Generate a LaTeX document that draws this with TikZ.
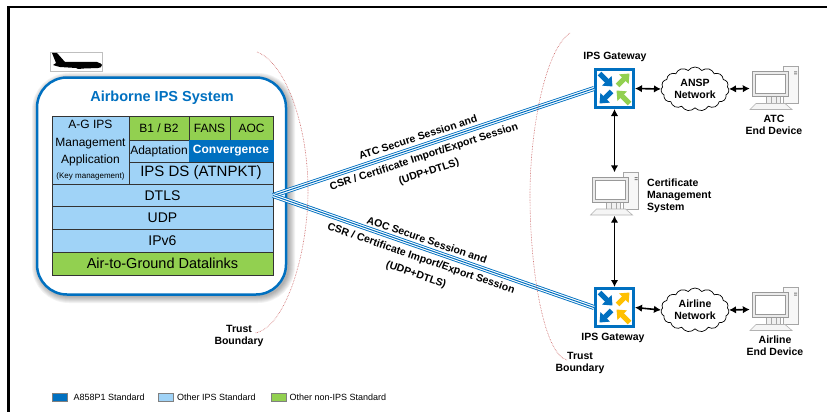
\documentclass[tikz,border=0pt]{standalone}
\usepackage{xcolor}
\usepackage{fontspec}
\usepackage{tikz}
\usetikzlibrary{positioning,shapes.symbols,arrows.meta}
\setmainfont{Liberation Sans}
\definecolor{ipsblue}{RGB}{0, 112, 192}
\definecolor{ipslight}{RGB}{160, 211, 247}
\definecolor{ipsgreen}{RGB}{146, 208, 80}
\definecolor{ipsyellow}{RGB}{255, 192, 0}
\definecolor{trustred}{RGB}{200, 90, 90}

\begin{document}
\begin{tikzpicture}[x=1pt, y=-1pt, node distance=22.7pt]
    % Define styles
    \tikzstyle{sysbox} = [rectangle, draw=ipsblue, line width=2.5pt, fill=white, rounded corners=30pt, minimum width=249pt, minimum height=217pt]
    \tikzstyle{cell} = [rectangle, draw=black!80, line width=0.8pt, inner sep=0pt, outer sep=0pt, text centered, font=\fontsize{12}{14}\selectfont]
    \tikzstyle{row} = [cell, fill=ipslight, minimum width=221pt, minimum height=22.7pt, font=\fontsize{14}{16}\selectfont]
    \tikzstyle{topcell} = [cell, fill=ipsgreen, minimum height=24pt]
    \tikzstyle{midcell} = [cell, fill=ipslight, minimum height=22pt]
    \tikzstyle{gateway} = [rectangle, draw=ipsblue, line width=3pt, fill=white, minimum size=38pt, inner sep=0pt]
    \tikzstyle{netcloud} = [cloud, cloud puffs=15, cloud puff arc=110, aspect=1.6, draw=black, line width=0.7pt, fill=white, minimum width=68pt, minimum height=44pt, inner sep=0pt, align=center, font=\fontsize{10.5}{12}\selectfont\bfseries]
    \tikzstyle{device} = [rectangle, minimum width=48pt, minimum height=43pt, inner sep=0pt]
    \tikzstyle{label} = [align=center, inner sep=0pt, font=\fontsize{10.5}{12}\selectfont\bfseries]
    \tikzstyle{session} = [label, font=\fontsize{10.5}{12}\selectfont\bfseries]
    \tikzstyle{line} = [draw, line width=1.6pt, {Latex[length=7pt,width=7.5pt]}-{Latex[length=7pt,width=7.5pt]}]
    \tikzstyle{secureline} = [draw=ipsblue, line width=5pt, postaction={draw=white, line width=3.2pt}, postaction={draw=ipsblue, line width=1pt}]
    \tikzstyle{trustline} = [draw=trustred, line width=0.6pt, densely dotted]
    \tikzstyle{legendbox} = [rectangle, draw=black!50, line width=0.8pt, minimum width=15pt, minimum height=8pt, inner sep=0pt]
    \tikzstyle{legendtext} = [inner sep=0pt, font=\fontsize{9}{11}\selectfont]
    \tikzset{
        pics/gatewayicon/.style={code={
            \draw[line width=5pt, ipsblue, -{Triangle[length=8pt,width=13pt]}] (-15,-15) -- (-2,-2);
            \draw[line width=5pt, ipsblue, -{Triangle[length=8pt,width=13pt]}] (-3,3) -- (-15,15);
            \draw[line width=5pt, #1, -{Triangle[length=8pt,width=13pt]}] (3,-3) -- (15,-15);
            \draw[line width=5pt, #1, -{Triangle[length=8pt,width=13pt]}] (15,15) -- (2,2);
        }},
        pics/computer/.style={code={
            \draw[black!35, line width=0.7pt, fill=black!3] (9,-22) rectangle (24,15);
            \fill[black!50] (20,-17) rectangle (23,-16) (20,-15) rectangle (23,-14);
            \draw[black!35, line width=0.7pt, fill=black!6] (-8,8) rectangle (6,15);
            \draw[black!35, line width=0.5pt] (-3,8) -- (-3,15) (2,8) -- (2,15);
            \draw[black!40, line width=0.8pt, fill=black!8] (-22,-17) rectangle (14,8);
            \draw[black!40, line width=0.5pt, fill=white] (-19,-14) rectangle (11,5);
            \draw[black!30, line width=0.6pt, fill=black!4] (-18,15) -- (11,15) -- (18,21) -- (-24,21) -- cycle;
        }}
    }

    % Frame and shadow
    \useasboundingbox (0,0) rectangle (827,412);
    \draw[line width=2.6pt] (827,7) -- (8.5,7) -- (8.5,412);
    \foreach \w in {2,4,...,14} {
        \draw[black, opacity=0.05, line width=\w pt, rounded corners=30pt] (39,80) rectangle (288,296);
    }

    % Airborne system
    \node [sysbox] (airborne) at (161.5,186) {};
    \node [font=\fontsize{14.5}{18}\selectfont\bfseries, text=ipsblue, inner sep=0pt] (airbornetitle) at (162,98) {Airborne IPS System};
    \node [row] (dtls) at (162.5,195.5) {DTLS};
    \node [row, below of=dtls] (udp) {UDP};
    \node [row, below of=udp] (ipv6) {IPv6};
    \node [row, fill=ipsgreen, below of=ipv6, font=\fontsize{14.5}{16}\selectfont] (datalinks) {Air-to-Ground Datalinks};
    \node [cell, fill=ipslight, minimum width=77pt, minimum height=68pt, align=center, anchor=north west, font=\fontsize{12}{17.5}\selectfont] (mgmt) at (52,116) {A-G IPS\\Management\\Application\\[-3pt]{\fontsize{8}{9}\selectfont (Key management)}};
    \node [topcell, minimum width=60pt, anchor=north west] (b12) at (129,116) {B1 / B2};
    \node [topcell, minimum width=41pt, right=0pt of b12] (fans) {FANS};
    \node [topcell, minimum width=43pt, right=0pt of fans] (aoc) {AOC};
    \node [midcell, minimum width=60pt, below=0pt of b12] (adaptation) {Adaptation};
    \node [midcell, fill=ipsblue, draw=ipsblue, text=white, minimum width=84pt, right=0pt of adaptation, font=\fontsize{12}{14}\selectfont\bfseries] (convergence) {Convergence};
    \node [midcell, minimum width=144pt, anchor=north west, font=\fontsize{15}{17}\selectfont] (ipsds) at (adaptation.south west) {IPS DS (ATNPKT)};

    % Plane
    \draw[black!25, line width=0.5pt] (50,52) rectangle (102,71);
    \fill[black] (52,53) -- (57,53) -- (65,62) -- (97,62) .. controls (100,63) and (102,64) .. (102,65) .. controls (102,67) and (100,68) .. (98,68) -- (84,68.5) -- (78,69) -- (76,68) -- (60,67) -- (56,66) -- (53,65) -- (56,63) -- cycle;

    % Gateways and clouds
    \node [gateway] (gwatc) at (614.5,88.5) {};
    \pic at (gwatc) {gatewayicon=ipsgreen};
    \node [gateway] (gwaoc) at (614.5,307.5) {};
    \pic at (gwaoc) {gatewayicon=ipsyellow};
    \node [netcloud] (ansp) at (695,89) {ANSP\\Network};
    \node [netcloud] (airlinenet) at (695,310) {Airline\\Network};

    % Devices
    \node [device] (atcdev) at (774,88.5) {};
    \pic at (atcdev) {computer};
    \node [device] (certdev) at (614.5,194) {};
    \pic at (certdev) {computer};
    \node [device] (airlinedev) at (774,309.5) {};
    \pic at (airlinedev) {computer};

    % Labels
    \node [label] (gwatclabel) at (615,57) {IPS Gateway};
    \node [label] (gwaoclabel) at (613,338) {IPS Gateway};
    \node [label] (atclabel) at (774,125) {ATC\\End Device};
    \node [label] (airlinelabel) at (775,346) {Airline\\End Device};
    \node [label, align=left, anchor=west] (certlabel) at (647,196) {Certificate\\Management\\System};
    \node [label] (trustleft) at (239,335.5) {Trust\\Boundary};
    \node [label] (trustright) at (580,363) {Trust\\Boundary};

    % Connections
    \path [secureline] (dtls.east) -- (gwatc.west);
    \path [secureline] (dtls.east) -- (gwaoc.west);
    \path [line] (gwatc.east) -- (ansp.west);
    \path [line] (ansp.east) -- (atcdev.west);
    \path [line] (gwaoc.east) -- (airlinenet.west);
    \path [line] (airlinenet.east) -- (airlinedev.west);
    \path [line] (gwatc.south) -- (certdev.north);
    \path [line] (certdev.south) -- (gwaoc.north);

    % Session texts
    \node [session, rotate=18] (atcsession) at (418,137) {ATC Secure Session and};
    \node [session, rotate=18] (atccsr) at (424,157) {CSR / Certificate Import/Export Session};
    \node [session, rotate=18] (atcudp) at (429,172) {(UDP+DTLS)};
    \node [session, rotate=-19] (aocsession) at (427,240) {AOC Secure Session and};
    \node [session, rotate=-19] (aoccsr) at (421,259) {CSR / Certificate Import/Export Session};
    \node [session, rotate=-19] (aocudp) at (416,275) {(UDP+DTLS)};

    % Trust boundaries
    \coordinate (lefttop) at (257,52);
    \coordinate (lefttail) at (255,333);
    \coordinate (righttop) at (570,33);
    \coordinate (righttail) at (567,360);
    \path [trustline] (lefttop) .. controls (285,62) and (308,125) .. (308,190) .. controls (308,255) and (285,328) .. (lefttail);
    \path [trustline] (righttop) .. controls (545,50) and (530,130) .. (530,195) .. controls (530,275) and (545,355) .. (righttail);

    % Legend
    \node [legendbox, fill=ipsblue] (keyarinc) at (59.5,397) {};
    \node [legendtext, right=6pt of keyarinc] (keyarinctext) {A858P1 Standard};
    \node [legendbox, fill=ipslight] (keyother) at (166,397) {};
    \node [legendtext, right=3pt of keyother] (keyothertext) {Other IPS Standard};
    \node [legendbox, fill=ipsgreen] (keynon) at (278.5,397) {};
    \node [legendtext, right=3pt of keynon] (keynontext) {Other non-IPS Standard};
\end{tikzpicture}
\end{document}
